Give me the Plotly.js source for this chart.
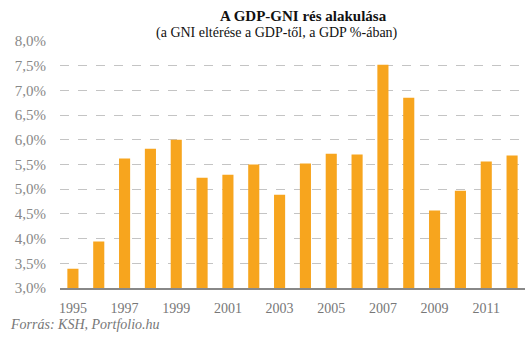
<!DOCTYPE html>
<html>
<head>
<meta charset="utf-8">
<script src="https://cdn.plot.ly/plotly-3.0.1.min.js"></script>
<style>html,body{margin:0;padding:0;background:#fff;}#chart{width:530px;height:341px;}</style>
</head>
<body>
<div id="chart"></div>
<script>
const years = [1995,1996,1997,1998,1999,2000,2001,2002,2003,2004,2005,2006,2007,2008,2009,2010,2011,2012];
const gap = [3.39,3.94,5.62,5.82,6.00,5.23,5.29,5.50,4.89,5.52,5.72,5.70,7.52,6.85,4.57,4.97,5.56,5.68];
const titleText = "A GDP-GNI rés alakulása";
const subtitleText = "(a GNI eltérése a GDP-től, a GDP %-ában)";
const sourceText = "Forrás: KSH, Portfolio.hu";

const serif = "Liberation Serif, Times New Roman, serif";
Plotly.newPlot('chart', [{
  type: 'bar',
  x: years,
  y: gap,
  marker: {color: '#F7A51E'},
  width: 0.43,
  hoverinfo: 'x+y'
}], {
  width: 530, height: 341,
  margin: {l: 60, r: 5, t: 41, b: 53},
  paper_bgcolor: '#fff', plot_bgcolor: '#fff',
  separators: ', ',
  showlegend: false,
  title: {
    text: '<b>' + titleText + '</b>',
    font: {family: serif, size: 15, color: '#111'},
    x: 277/530, xanchor: 'center', xref: 'paper',
    y: 1 - 16/341, yanchor: 'middle', yref: 'container'
  },
  annotations: [
    {text: subtitleText, xref: 'paper', yref: 'paper', x: (277-60)/465, y: (288-33)/247,
     xanchor: 'center', yanchor: 'middle', showarrow: false,
     font: {family: serif, size: 14, color: '#111'}},
    {text: '<i>' + sourceText + '</i>', xref: 'paper', yref: 'paper', x: (8-60)/465, y: (288-324)/247,
     xanchor: 'left', yanchor: 'middle', showarrow: false,
     font: {family: serif, size: 14, color: '#777'}}
  ],
  xaxis: {
    range: [1994.5, 2012.5],
    tickmode: 'linear', tick0: 1995, dtick: 2,
    showgrid: false, zeroline: false,
    showline: true, linecolor: '#888', linewidth: 2,
    ticks: 'outside', ticklen: 6, tickcolor: 'rgba(0,0,0,0)',
    tickfont: {family: serif, size: 14, color: '#777'},
    fixedrange: true
  },
  yaxis: {
    range: [3, 8],
    tickmode: 'linear', tick0: 3, dtick: 0.5,
    tickformat: '.1f', ticksuffix: '%',
    showgrid: true, gridcolor: '#c4c4c4', griddash: 'dash', gridwidth: 1,
    zeroline: false, showline: false,
    ticks: 'outside', ticklen: 10, tickcolor: 'rgba(0,0,0,0)',
    tickfont: {family: serif, size: 15, color: '#888'},
    fixedrange: true
  }
}, {displayModeBar: false, staticPlot: true});
</script>
</body>
</html>
